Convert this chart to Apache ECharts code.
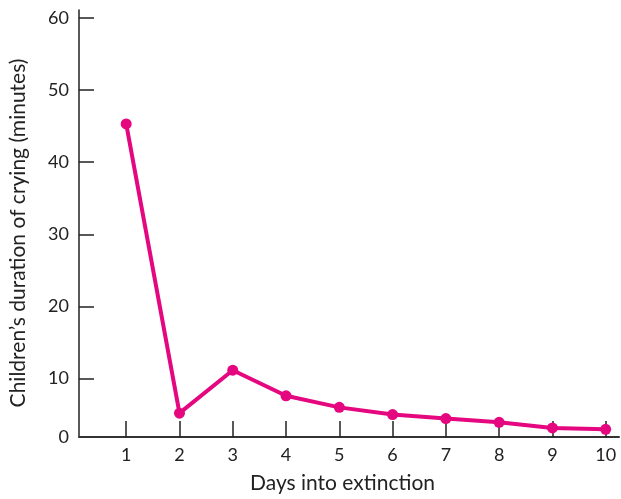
<!DOCTYPE html>
<html><head><meta charset="utf-8">
<script src="https://cdn.jsdelivr.net/npm/echarts@6/dist/echarts.min.js"></script>
<style>html,body{margin:0;padding:0;background:#fff}#c{width:621px;height:499px}</style>
</head><body><div id="c"></div>
<script>
const days = [1, 2, 3, 4, 5, 6, 7, 8, 9, 10];
const cryingMinutes = [45.3, 5.2, 11.15, 7.6, 6.0, 5.0, 4.45, 3.93, 3.14, 2.96];
const xTicks = [1, 2, 3, 4, 5, 6, 7, 8, 9, 10];
const yAxisBottom = 1.89;
const yTicks = [10, 20, 30, 40, 50, 60];
const yLabelValues = [yAxisBottom, 10, 20, 30, 40, 50, 60];
const xTitle = 'Days into extinction';
const yTitle = 'Children\u2019s duration of crying (minutes)';

const font = 'Lato, "Open Sans", sans-serif';
const chart = echarts.init(document.getElementById('c'), null, {renderer: 'canvas'});
chart.setOption({
  animation: false,
  grid: {left: 78, right: 2, top: 10, bottom: 62, containLabel: false},
  xAxis: {
    type: 'value', min: 0.114, max: 10.25,
    name: xTitle, nameLocation: 'middle', nameGap: 36,
    nameTextStyle: {fontFamily: font, fontSize: 21, color: '#222', padding: [0, 13, 0, 0]},
    axisLine: {show: true, onZero: false, lineStyle: {color: '#333', width: 2}},
    axisTick: {show: true, inside: true, length: 16, lineStyle: {color: '#222', width: 1.5}, customValues: xTicks},
    axisLabel: {fontFamily: font, fontSize: 18, color: '#222', margin: 9, customValues: xTicks},
    splitLine: {show: false}
  },
  yAxis: {
    type: 'value', min: yAxisBottom, max: 61.1,
    name: yTitle, nameLocation: 'middle', nameGap: 50, nameRotate: 90,
    nameTextStyle: {fontFamily: font, fontSize: 21, color: '#222', padding: [0, 19, 0, 0]},
    axisLine: {show: true, lineStyle: {color: '#222', width: 1.5}},
    axisTick: {show: true, inside: true, length: 15, lineStyle: {color: '#222', width: 1.5}, customValues: yTicks},
    axisLabel: {fontFamily: font, fontSize: 18, color: '#222', margin: 10, customValues: yLabelValues,
      formatter: v => (v < 5 ? '0' : String(Math.round(v)))},
    splitLine: {show: false}
  },
  series: [{
    type: 'line',
    data: days.map((d, i) => [d, cryingMinutes[i]]),
    symbol: 'circle', symbolSize: 11,
    lineStyle: {color: '#E5077F', width: 4},
    itemStyle: {color: '#E5077F'},
    z: 3
  }]
});
</script></body></html>
